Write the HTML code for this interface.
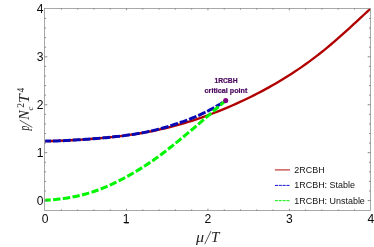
<!DOCTYPE html>
<html><head><meta charset="utf-8"><style>
html,body{margin:0;padding:0;background:#fff;}
svg{display:block;will-change:transform;opacity:0.999}
text{font-family:"Liberation Sans",sans-serif;}
.s text{font-family:"Liberation Serif",serif;}
</style></head><body>
<svg width="374" height="247" viewBox="0 0 374 247">
<rect width="374" height="247" fill="#fff"/>
<clipPath id="c"><rect x="44.5" y="8.5" width="326.0" height="202.0"/></clipPath>
<g fill="none" stroke-linecap="butt" stroke-linejoin="round" clip-path="url(#c)">
<path d="M45.20,141.12 L48.87,141.09 L52.53,141.02 L56.20,140.92 L59.87,140.79 L63.53,140.63 L67.20,140.45 L70.86,140.25 L74.53,140.04 L78.20,139.81 L81.86,139.58 L85.53,139.32 L89.20,139.06 L92.86,138.78 L96.53,138.49 L100.19,138.18 L103.86,137.85 L107.53,137.51 L111.19,137.14 L114.86,136.75 L118.53,136.34 L122.19,135.90 L125.86,135.43 L129.52,134.93 L133.19,134.40 L136.86,133.84 L140.52,133.24 L144.19,132.61 L147.86,131.94 L151.52,131.23 L155.19,130.48 L158.86,129.69 L162.52,128.87 L166.19,128.00 L169.85,127.09 L173.52,126.14 L177.19,125.15 L180.85,124.12 L184.52,123.04 L188.19,121.93 L191.85,120.78 L195.52,119.58 L199.18,118.35 L202.85,117.07 L206.52,115.76 L210.18,114.40 L213.85,113.01 L217.52,111.58 L221.18,110.11 L224.85,108.60 L228.51,107.06 L232.18,105.47 L235.85,103.85 L239.51,102.19 L243.18,100.49 L246.85,98.74 L250.51,96.96 L254.18,95.13 L257.84,93.26 L261.51,91.35 L265.18,89.39 L268.84,87.38 L272.51,85.32 L276.18,83.21 L279.84,81.05 L283.51,78.83 L287.18,76.56 L290.84,74.22 L294.51,71.83 L298.17,69.37 L301.84,66.85 L305.51,64.26 L309.17,61.60 L312.84,58.88 L316.51,56.09 L320.17,53.23 L323.84,50.30 L327.50,47.31 L331.17,44.24 L334.84,41.12 L338.50,37.93 L342.17,34.69 L345.84,31.40 L349.50,28.07 L353.17,24.70 L356.83,21.30 L360.50,17.90 L364.17,14.49 L367.83,11.09 L371.50,7.73" stroke="#b00000" stroke-width="2.35"/>
<path d="M45.20,141.12 L47.23,141.11 L49.26,141.09 L51.28,141.05 L53.31,141.01 L55.34,140.95 L57.37,140.88 L59.40,140.81 L61.42,140.72 L63.45,140.63 L65.48,140.54 L67.51,140.43 L69.54,140.33 L71.57,140.21 L73.59,140.10 L75.62,139.98 L77.65,139.85 L79.68,139.72 L81.71,139.59 L83.73,139.45 L85.76,139.31 L87.79,139.16 L89.82,139.01 L91.85,138.86 L93.87,138.70 L95.90,138.54 L97.93,138.37 L99.96,138.20 L101.99,138.02 L104.01,137.84 L106.04,137.65 L108.07,137.45 L110.10,137.25 L112.13,137.04 L114.16,136.83 L116.18,136.60 L118.21,136.37 L120.24,136.13 L122.27,135.89 L124.30,135.63 L126.32,135.36 L128.35,135.08 L130.38,134.79 L132.41,134.48 L134.44,134.17 L136.46,133.84 L138.49,133.49 L140.52,133.13 L142.55,132.75 L144.58,132.35 L146.60,131.94 L148.63,131.52 L150.66,131.08 L152.69,130.63 L154.72,130.15 L156.74,129.65 L158.77,129.14 L160.80,128.60 L162.83,128.05 L164.86,127.48 L166.89,126.87 L168.91,126.23 L170.94,125.57 L172.97,124.91 L175.00,124.25 L177.03,123.60 L179.05,122.95 L181.08,122.29 L183.11,121.61 L185.14,120.90 L187.17,120.14 L189.19,119.34 L191.22,118.50 L193.25,117.65 L195.28,116.78 L197.31,115.92 L199.33,115.04 L201.36,114.13 L203.39,113.20 L205.42,112.23 L207.45,111.22 L209.48,110.17 L211.50,109.09 L213.53,107.97 L215.56,106.82 L217.59,105.64 L219.62,104.41 L221.64,103.15 L223.67,101.83 L225.70,100.46" stroke="#0a0ab4" stroke-width="3.0" stroke-dasharray="8.0 1.9" stroke-dashoffset="2.2"/>
<path d="M45.20,200.22 L47.23,200.11 L49.26,199.99 L51.28,199.84 L53.31,199.68 L55.34,199.50 L57.37,199.30 L59.40,199.07 L61.42,198.83 L63.45,198.56 L65.48,198.26 L67.51,197.95 L69.54,197.60 L71.57,197.24 L73.59,196.85 L75.62,196.43 L77.65,195.98 L79.68,195.51 L81.71,195.01 L83.73,194.49 L85.76,193.93 L87.79,193.35 L89.82,192.74 L91.85,192.11 L93.87,191.44 L95.90,190.74 L97.93,190.02 L99.96,189.27 L101.99,188.48 L104.01,187.67 L106.04,186.83 L108.07,185.96 L110.10,185.06 L112.13,184.13 L114.16,183.18 L116.18,182.19 L118.21,181.18 L120.24,180.14 L122.27,179.08 L124.30,178.00 L126.32,176.91 L128.35,175.80 L130.38,174.66 L132.41,173.51 L134.44,172.33 L136.46,171.13 L138.49,169.89 L140.52,168.63 L142.55,167.35 L144.58,166.05 L146.60,164.73 L148.63,163.39 L150.66,162.03 L152.69,160.64 L154.72,159.22 L156.74,157.77 L158.77,156.30 L160.80,154.79 L162.83,153.26 L164.86,151.71 L166.89,150.14 L168.91,148.56 L170.94,146.96 L172.97,145.34 L175.00,143.71 L177.03,142.07 L179.05,140.42 L181.08,138.75 L183.11,137.07 L185.14,135.39 L187.17,133.69 L189.19,131.98 L191.22,130.26 L193.25,128.54 L195.28,126.80 L197.31,125.07 L199.33,123.33 L201.36,121.58 L203.39,119.84 L205.42,118.10 L207.45,116.33 L209.48,114.55 L211.50,112.77 L213.53,110.99 L215.56,109.24 L217.59,107.48 L219.62,105.74 L221.64,104.01 L223.67,102.33 L225.70,100.70" stroke="#00f600" stroke-width="3.05" stroke-dasharray="7.4 2.4" stroke-dashoffset="1.9"/>
</g>
<circle cx="225.7" cy="100.6" r="2.55" fill="#800080"/>
<rect x="44.5" y="8.5" width="326.0" height="202.0" fill="none" stroke="#8c8c8c" stroke-width="0.75"/>
<g stroke="#6e6e6e" stroke-width="0.8"><line x1="61.43" y1="210.5" x2="61.43" y2="209.35"/><line x1="61.43" y1="8.5" x2="61.43" y2="9.65"/><line x1="77.71" y1="210.5" x2="77.71" y2="209.35"/><line x1="77.71" y1="8.5" x2="77.71" y2="9.65"/><line x1="93.99" y1="210.5" x2="93.99" y2="209.35"/><line x1="93.99" y1="8.5" x2="93.99" y2="9.65"/><line x1="110.27" y1="210.5" x2="110.27" y2="209.35"/><line x1="110.27" y1="8.5" x2="110.27" y2="9.65"/><line x1="126.55" y1="210.5" x2="126.55" y2="208.7"/><line x1="126.55" y1="8.5" x2="126.55" y2="10.3"/><line x1="142.83" y1="210.5" x2="142.83" y2="209.35"/><line x1="142.83" y1="8.5" x2="142.83" y2="9.65"/><line x1="159.11" y1="210.5" x2="159.11" y2="209.35"/><line x1="159.11" y1="8.5" x2="159.11" y2="9.65"/><line x1="175.39" y1="210.5" x2="175.39" y2="209.35"/><line x1="175.39" y1="8.5" x2="175.39" y2="9.65"/><line x1="191.67" y1="210.5" x2="191.67" y2="209.35"/><line x1="191.67" y1="8.5" x2="191.67" y2="9.65"/><line x1="207.95" y1="210.5" x2="207.95" y2="208.7"/><line x1="207.95" y1="8.5" x2="207.95" y2="10.3"/><line x1="224.23" y1="210.5" x2="224.23" y2="209.35"/><line x1="224.23" y1="8.5" x2="224.23" y2="9.65"/><line x1="240.51" y1="210.5" x2="240.51" y2="209.35"/><line x1="240.51" y1="8.5" x2="240.51" y2="9.65"/><line x1="256.79" y1="210.5" x2="256.79" y2="209.35"/><line x1="256.79" y1="8.5" x2="256.79" y2="9.65"/><line x1="273.07" y1="210.5" x2="273.07" y2="209.35"/><line x1="273.07" y1="8.5" x2="273.07" y2="9.65"/><line x1="289.35" y1="210.5" x2="289.35" y2="208.7"/><line x1="289.35" y1="8.5" x2="289.35" y2="10.3"/><line x1="305.63" y1="210.5" x2="305.63" y2="209.35"/><line x1="305.63" y1="8.5" x2="305.63" y2="9.65"/><line x1="321.91" y1="210.5" x2="321.91" y2="209.35"/><line x1="321.91" y1="8.5" x2="321.91" y2="9.65"/><line x1="338.19" y1="210.5" x2="338.19" y2="209.35"/><line x1="338.19" y1="8.5" x2="338.19" y2="9.65"/><line x1="354.47" y1="210.5" x2="354.47" y2="209.35"/><line x1="354.47" y1="8.5" x2="354.47" y2="9.65"/><line x1="44.5" y1="200.60" x2="47.3" y2="200.60"/><line x1="370.5" y1="200.60" x2="367.7" y2="200.60"/><line x1="44.5" y1="191.01" x2="46.0" y2="191.01"/><line x1="370.5" y1="191.01" x2="369.0" y2="191.01"/><line x1="44.5" y1="181.43" x2="46.0" y2="181.43"/><line x1="370.5" y1="181.43" x2="369.0" y2="181.43"/><line x1="44.5" y1="171.84" x2="46.0" y2="171.84"/><line x1="370.5" y1="171.84" x2="369.0" y2="171.84"/><line x1="44.5" y1="162.26" x2="46.0" y2="162.26"/><line x1="370.5" y1="162.26" x2="369.0" y2="162.26"/><line x1="44.5" y1="152.67" x2="47.3" y2="152.67"/><line x1="370.5" y1="152.67" x2="367.7" y2="152.67"/><line x1="44.5" y1="143.08" x2="46.0" y2="143.08"/><line x1="370.5" y1="143.08" x2="369.0" y2="143.08"/><line x1="44.5" y1="133.50" x2="46.0" y2="133.50"/><line x1="370.5" y1="133.50" x2="369.0" y2="133.50"/><line x1="44.5" y1="123.91" x2="46.0" y2="123.91"/><line x1="370.5" y1="123.91" x2="369.0" y2="123.91"/><line x1="44.5" y1="114.33" x2="46.0" y2="114.33"/><line x1="370.5" y1="114.33" x2="369.0" y2="114.33"/><line x1="44.5" y1="104.74" x2="47.3" y2="104.74"/><line x1="370.5" y1="104.74" x2="367.7" y2="104.74"/><line x1="44.5" y1="95.15" x2="46.0" y2="95.15"/><line x1="370.5" y1="95.15" x2="369.0" y2="95.15"/><line x1="44.5" y1="85.57" x2="46.0" y2="85.57"/><line x1="370.5" y1="85.57" x2="369.0" y2="85.57"/><line x1="44.5" y1="75.98" x2="46.0" y2="75.98"/><line x1="370.5" y1="75.98" x2="369.0" y2="75.98"/><line x1="44.5" y1="66.40" x2="46.0" y2="66.40"/><line x1="370.5" y1="66.40" x2="369.0" y2="66.40"/><line x1="44.5" y1="56.81" x2="47.3" y2="56.81"/><line x1="370.5" y1="56.81" x2="367.7" y2="56.81"/><line x1="44.5" y1="47.22" x2="46.0" y2="47.22"/><line x1="370.5" y1="47.22" x2="369.0" y2="47.22"/><line x1="44.5" y1="37.64" x2="46.0" y2="37.64"/><line x1="370.5" y1="37.64" x2="369.0" y2="37.64"/><line x1="44.5" y1="28.05" x2="46.0" y2="28.05"/><line x1="370.5" y1="28.05" x2="369.0" y2="28.05"/><line x1="44.5" y1="18.47" x2="46.0" y2="18.47"/><line x1="370.5" y1="18.47" x2="369.0" y2="18.47"/></g>
<g font-size="12.1" fill="#0a0a0a"><text transform="translate(45.15,223.4) scale(1.0,1)" text-anchor="middle">0</text><text transform="translate(126.15,223.4) scale(1.0,1)" text-anchor="middle">1</text><text transform="translate(207.95,223.4) scale(1.0,1)" text-anchor="middle">2</text><text transform="translate(289.35,223.4) scale(1.0,1)" text-anchor="middle">3</text><text transform="translate(370.75,223.4) scale(1.0,1)" text-anchor="middle">4</text><rect x="124.65" y="222.55" width="4.2" height="0.85"/><text transform="translate(43.6,204.90) scale(1.0,1)" text-anchor="end">0</text><text transform="translate(43.6,156.97) scale(1.0,1)" text-anchor="end">1</text><text transform="translate(43.6,109.04) scale(1.0,1)" text-anchor="end">2</text><text transform="translate(43.6,61.11) scale(1.0,1)" text-anchor="end">3</text><text transform="translate(43.6,13.18) scale(1.0,1)" text-anchor="end">4</text><rect x="38.5" y="156.12" width="4.2" height="0.85"/></g>
<g font-size="6.3" font-weight="bold" fill="#4c0a5e" stroke="#4c0a5e" stroke-width="0.2" text-anchor="middle">
<text x="226" y="82.8" textLength="23.2" lengthAdjust="spacingAndGlyphs">1RCBH</text>
<text x="226" y="93.3" textLength="42.8" lengthAdjust="spacingAndGlyphs">critical point</text>
</g>
<g font-size="8.95" fill="#111">
<text x="294.3" y="172.8">2RCBH</text>
<text x="294.3" y="188.3">1RCBH: Stable</text>
<text x="294.3" y="204.1">1RCBH: Unstable</text>
</g>
<line x1="274.9" y1="169.9" x2="290" y2="169.9" stroke="#c43c3c" stroke-width="1.25"/>
<line x1="274.9" y1="185.4" x2="289.6" y2="185.4" stroke="#1818d8" stroke-width="1.0" stroke-dasharray="3.1 0.75"/>
<line x1="274.9" y1="200.65" x2="289.6" y2="200.65" stroke="#10f010" stroke-width="1.0" stroke-dasharray="3.1 0.75"/>
<g class="s" font-style="italic" fill="#222" font-size="14">
<text transform="translate(195.9,241.7) scale(1.15,1)">μ</text>
<line x1="204.7" y1="244.2" x2="211.0" y2="231" stroke="#222" stroke-width="0.75"/>
<text transform="translate(210.9,241.7) scale(1.08,1)">T</text>
</g>
<g class="s" transform="translate(28.8,131.5) rotate(-90)" font-style="italic" fill="#222" font-size="14">
<text transform="translate(0.9,0) scale(0.68,1)">p</text>
<line x1="4.1" y1="3.5" x2="11.4" y2="-9.2" stroke="#222" stroke-width="0.75"/>
<text x="11.8" y="0">N</text>
<text x="23.7" y="-5.3" font-size="9.5" font-style="normal">2</text>
<text x="21.0" y="3.8" font-size="8.8">c</text>
<text transform="translate(28.4,0) scale(1.12,1)">T</text>
<text x="39.0" y="-5.3" font-size="9.5" font-style="normal">4</text>
</g>
</svg>
</body></html>
